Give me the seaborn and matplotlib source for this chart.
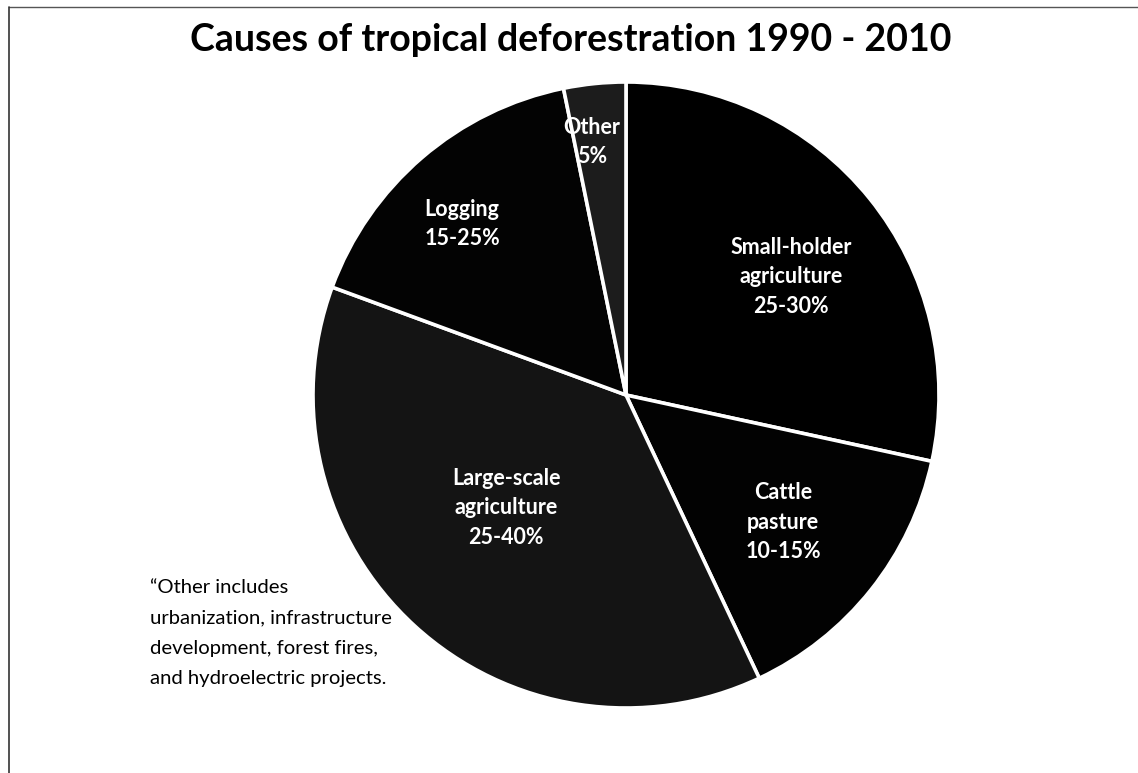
import matplotlib
matplotlib.use("Agg")
import matplotlib.pyplot as plt
import seaborn as sns
from matplotlib.lines import Line2D

sns.set_theme(style="white")
plt.rcParams['font.family'] = ['Lato', 'DejaVu Sans']

# Data (slice sizes, clockwise from top)
categories = ["Small-holder agriculture", "Cattle pasture", "Large-scale agriculture", "Logging", "Other"]
shares = [28.4, 14.6, 37.6, 16.2, 3.2]
slice_labels = ["Small-holder\nagriculture\n25-30%", "Cattle\npasture\n10-15%",
                "Large-scale\nagriculture\n25-40%", "Logging\n15-25%", "Other\n5%"]
colors = ["#000000", "#020202", "#141414", "#030303", "#1c1c1c"]
label_pos = [(0.527, 0.377), (0.502, -0.406), (-0.383, -0.361), (-0.524, 0.546), (-0.109, 0.808)]

title = "Causes of tropical deforestration 1990 - 2010"
footnote = "\u201cOther includes\nurbanization, infrastructure\ndevelopment, forest fires,\nand hydroelectric projects."

W, H = 1138, 773
fig = plt.figure(figsize=(W / 100, H / 100), dpi=100)
fig.patch.set_facecolor("white")

cx, cy, r = 626, 395, 313
ax = fig.add_axes([(cx - r) / W, (H - cy - r) / H, 2 * r / W, 2 * r / H])
ax.pie(shares, colors=colors, startangle=90, counterclock=False, radius=1,
       wedgeprops=dict(edgecolor="white", linewidth=2.6))
ax.set_xlim(-1, 1)
ax.set_ylim(-1, 1)
ax.set_aspect("equal")
ax.axis("off")

for lab, (x, y) in zip(slice_labels, label_pos):
    ax.text(x, y, lab, ha="center", va="center", color="white", fontsize=15.5,
            fontweight="bold", linespacing=1.5)

fig.text(571 / W, 1 - 40 / H, title, ha="center", va="center", fontsize=27,
         fontweight="bold", color="black")
fig.text(150 / W, 1 - 633 / H, footnote, ha="left", va="center", fontsize=14.6,
         color="black", linespacing=1.94)

# frame lines (top and left)
fig.add_artist(Line2D([9 / W, 1.0], [1 - 7 / H, 1 - 7 / H], transform=fig.transFigure,
                      color="#555555", linewidth=1))
fig.add_artist(Line2D([9 / W, 9 / W], [0, 1 - 7 / H], transform=fig.transFigure,
                      color="#333333", linewidth=1.2))

fig.savefig("out.png", dpi=100, facecolor="white")
